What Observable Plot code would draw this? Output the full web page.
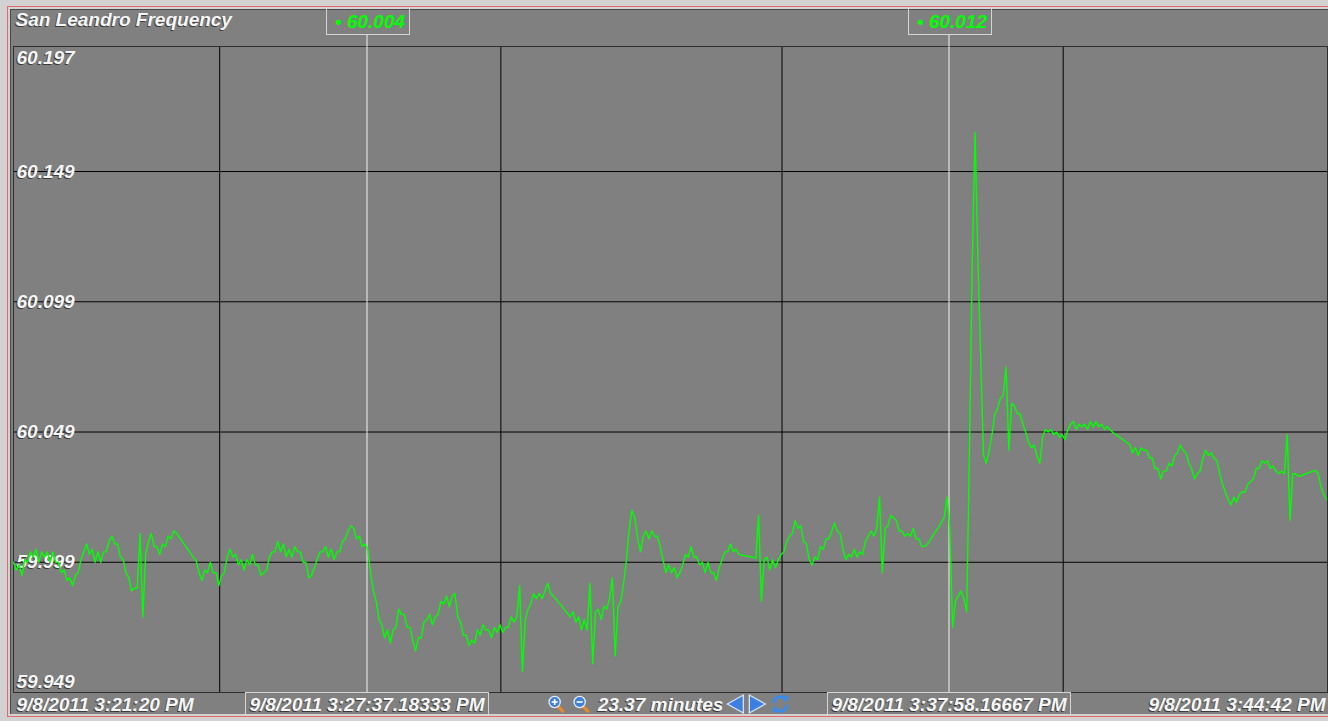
<!DOCTYPE html>
<html>
<head>
<meta charset="utf-8">
<script src="https://cdn.jsdelivr.net/npm/d3@7"></script>
<script src="https://cdn.jsdelivr.net/npm/@observablehq/plot@0.6"></script>
<style>
  html, body { margin: 0; padding: 0; background: #d2d2d2; width: 1328px; height: 721px; overflow: hidden; }
  #frame { position: absolute; left: 7px; top: 6px; width: 1340px; height: 711px; border: 1.5px solid #e26a6a; box-sizing: border-box; }
  #panel { position: absolute; left: 10px; top: 9px; width: 1340px; height: 705px; background: #808080; border-left: 1px solid #4a4a4a; border-top: 1px solid #4a4a4a; box-sizing: border-box; }
  #chart { position: absolute; left: 0; top: 0; }
</style>
</head>
<body>
<div id="frame"></div>
<div id="panel"></div>
<div id="chart"></div>
<script>
// San Leandro grid frequency trace, one reading every 3 seconds
const chartTitle = "San Leandro Frequency";
const startTime = new Date(Date.UTC(2011, 8, 8, 15, 21, 20));
const endTime = new Date(Date.UTC(2011, 8, 8, 15, 44, 42));
const sampleSeconds = 3;

const frequency = [
  59.999, 59.996, 59.998, 59.994, 60.000, 59.999, 60.003, 60.001, 60.004, 59.999,
  60.003, 60.001, 60.003, 59.999, 60.003, 59.999, 59.999, 59.995, 59.996, 59.992,
  59.993, 59.990, 59.994, 59.995, 60.000, 60.003, 60.006, 60.002, 60.004, 59.999,
  60.003, 59.999, 60.003, 60.003, 60.007, 60.009, 60.006, 60.006, 60.001, 60.000,
  59.995, 59.993, 59.988, 59.989, 59.989, 60.010, 59.978, 60.002, 60.007, 60.010,
  60.005, 60.005, 60.002, 60.006, 60.005, 60.009, 60.008, 60.011, 60.0101, 60.0086,
  60.0070, 60.0055, 60.0040, 60.0024, 60.0009, 59.9994, 59.995, 59.992, 59.996, 59.995,
  59.999, 59.995, 59.995, 59.990, 59.994, 59.995, 60.001, 60.004, 60.001, 60.002,
  59.998, 60.000, 59.996, 60.000, 59.998, 60.002, 59.998, 59.998, 59.994, 59.995,
  59.996, 60.001, 60.003, 60.003, 60.007, 60.003, 60.006, 60.001, 60.004, 60.001,
  60.005, 60.003, 60.003, 59.999, 59.999, 59.993, 59.994, 59.997, 60.000, 60.003,
  60.003, 60.005, 60.001, 60.004, 60.000, 60.003, 60.003, 60.007, 60.008, 60.011,
  60.013, 60.012, 60.008, 60.009, 60.005, 60.006, 60.004, 59.995, 59.988, 59.984,
  59.977, 59.975, 59.970, 59.973, 59.968, 59.973, 59.974, 59.981, 59.979, 59.979,
  59.974, 59.974, 59.969, 59.965, 59.970, 59.970, 59.976, 59.977, 59.979, 59.975,
  59.978, 59.979, 59.984, 59.983, 59.986, 59.982, 59.986, 59.987, 59.978, 59.976,
  59.971, 59.971, 59.967, 59.969, 59.968, 59.973, 59.971, 59.975, 59.973, 59.973,
  59.970, 59.974, 59.972, 59.975, 59.972, 59.974, 59.974, 59.978, 59.976, 59.978,
  59.990, 59.957, 59.977, 59.981, 59.983, 59.987, 59.985, 59.987, 59.985, 59.988,
  59.991, 59.987, 59.9860, 59.9848, 59.9834, 59.9822, 59.9807, 59.9795, 59.9780, 59.980,
  59.976, 59.978, 59.973, 59.977, 59.973, 59.991, 59.960, 59.980, 59.981, 59.977,
  59.982, 59.981, 59.985, 59.993, 59.963, 59.982, 59.984, 59.991, 60.000, 60.012,
  60.019, 60.016, 60.008, 60.003, 60.009, 60.011, 60.008, 60.011, 60.009, 60.009,
  60.005, 60.000, 59.995, 59.998, 59.995, 59.997, 59.993, 59.995, 59.998, 60.002,
  60.001, 60.005, 60.001, 60.001, 59.998, 59.999, 59.995, 59.999, 59.995, 59.995,
  59.992, 59.997, 60.000, 60.003, 60.003, 60.006, 60.003, 60.004, 60.002, 60.0017,
  60.0015, 60.0013, 60.0011, 60.0009, 60.0005, 60.017, 59.984, 60.000, 60.001, 59.996,
  60.000, 59.997, 60.000, 60.002, 60.003, 60.007, 60.009, 60.010, 60.015, 60.012,
  60.013, 60.007, 60.006, 60.000, 59.998, 60.001, 60.000, 60.005, 60.004, 60.008,
  60.008, 60.011, 60.014, 60.011, 60.010, 60.004, 60.000, 60.002, 60.001, 60.004,
  60.001, 60.003, 60.002, 60.007, 60.009, 60.011, 60.009, 60.012, 60.024, 59.995,
  60.012, 60.013, 60.017, 60.016, 60.015, 60.011, 60.011, 60.009, 60.010, 60.009,
  60.012, 60.008, 60.008, 60.005, 60.0051, 60.0059, 60.0074, 60.0093, 60.0109, 60.0124,
  60.0143, 60.0162, 60.024, 60.012, 59.974, 59.984, 59.986, 59.988, 59.985, 59.980,
  60.042, 60.115, 60.164, 60.115, 60.077, 60.040, 60.037, 60.042, 60.048, 60.056,
  60.058, 60.062, 60.063, 60.074, 60.042, 60.060, 60.059, 60.056, 60.056, 60.052,
  60.049, 60.045, 60.043, 60.044, 60.040, 60.037, 60.047, 60.050, 60.049, 60.050,
  60.048, 60.049, 60.047, 60.048, 60.046, 60.050, 60.052, 60.053, 60.050, 60.052,
  60.051, 60.052, 60.050, 60.053, 60.051, 60.053, 60.051, 60.052, 60.050, 60.051,
  60.050, 60.0488, 60.0480, 60.0473, 60.0465, 60.0457, 60.0449, 60.0442, 60.041, 60.043,
  60.040, 60.043, 60.042, 60.042, 60.039, 60.039, 60.035, 60.035, 60.031, 60.034,
  60.034, 60.037, 60.036, 60.040, 60.041, 60.044, 60.042, 60.041, 60.037, 60.035,
  60.031, 60.033, 60.034, 60.039, 60.042, 60.040, 60.041, 60.039, 60.038, 60.033,
  60.029, 60.026, 60.023, 60.021, 60.024, 60.022, 60.025, 60.026, 60.026, 60.029,
  60.030, 60.031, 60.035, 60.035, 60.038, 60.037, 60.038, 60.035, 60.036, 60.034,
  60.033, 60.034, 60.033, 60.048, 60.015, 60.033, 60.033, 60.032, 60.0323, 60.0327,
  60.0331, 60.0335, 60.0339, 60.0343, 60.033, 60.028, 60.025, 60.023
];

// Vertical divisions every five minutes, horizontal ones at the labelled levels
const gridTimes = [
  new Date(Date.UTC(2011, 8, 8, 15, 25, 0)),
  new Date(Date.UTC(2011, 8, 8, 15, 30, 0)),
  new Date(Date.UTC(2011, 8, 8, 15, 35, 0)),
  new Date(Date.UTC(2011, 8, 8, 15, 40, 0))
];
const yTicks = [59.949, 59.999, 60.049, 60.099, 60.149, 60.197];

// Two cursors and the start/end stamps of the window
const cursorTimes = [
  new Date(Date.UTC(2011, 8, 8, 15, 27, 37, 183)),
  new Date(Date.UTC(2011, 8, 8, 15, 37, 58, 167))
];
const cursorStamps = ["9/8/2011 3:27:37.18333 PM", "9/8/2011 3:37:58.16667 PM"];
const rangeStamps = ["9/8/2011 3:21:20 PM", "9/8/2011 3:44:42 PM"];

const rows = frequency.map((hz, i) => ({
  time: new Date(startTime.getTime() + i * sampleSeconds * 1000),
  hz
}));
const valueAt = (t) => frequency[Math.round((t - startTime) / 1000 / sampleSeconds)];
const readout = (hz) => "\u2022 " + d3.format(".3f")(hz);
const cursors = cursorTimes.map((time, i) => ({time, stamp: cursorStamps[i], hz: valueAt(time)}));
const midTime = new Date((startTime.getTime() + endTime.getTime()) / 2);
const spanText = `${d3.format(".2f")((endTime - startTime) / 60000)} minutes`;

const font = {
  fontFamily: "'Liberation Sans', Arial, sans-serif",
  fontSize: 19,
  fontWeight: "bold",
  fontStyle: "italic",
  lineAnchor: "middle"
};
const ink = "#f6f6f6";
const shade = "#3a3a3a";

// White label with a thin dark drop shadow
function shadowed(data, opts) {
  return [
    Plot.text(data, {...font, ...opts, fill: shade, dx: (opts.dx || 0) - 1, dy: (opts.dy || 0) + 1}),
    Plot.text(data, {...font, fill: ink, ...opts})
  ];
}

const plot = Plot.plot({
  width: 1328,
  height: 721,
  marginLeft: 13,
  marginRight: 1,
  marginTop: 46,
  marginBottom: 29,
  style: {background: "transparent", overflow: "visible"},
  x: {type: "utc", domain: [startTime, endTime], axis: null},
  y: {domain: [yTicks[0], yTicks[yTicks.length - 1]], axis: null},
  marks: [
    Plot.ruleX(gridTimes, {stroke: "#000", strokeWidth: 1}),
    Plot.ruleY(yTicks.slice(1, -1), {stroke: "#000", strokeWidth: 1}),
    Plot.frame({stroke: "#2e2e2e"}),
    ...shadowed(yTicks.slice(1, -1), {frameAnchor: "left", y: d => d, text: d => d.toFixed(3), textAnchor: "start", dx: 3}),
    ...shadowed(yTicks.slice(-1), {frameAnchor: "left", y: d => d, text: d => d.toFixed(3), textAnchor: "start", dx: 3, lineAnchor: "top", dy: 4}),
    ...shadowed(yTicks.slice(0, 1), {frameAnchor: "left", y: d => d, text: d => d.toFixed(3), textAnchor: "start", dx: 3, lineAnchor: "bottom", dy: -5}),
    Plot.ruleX(cursorTimes, {stroke: "#f2f2f2", strokeWidth: 1, insetTop: -12}),
    Plot.line(rows, {x: "time", y: "hz", stroke: "#00ff00", strokeWidth: 1.4}),
    ...shadowed([chartTitle], {frameAnchor: "top-left", text: d => d, textAnchor: "start", dx: 2, dy: -27}),
    Plot.text(cursors, {...font, x: "time", frameAnchor: "top", dy: -25, dx: 3, fill: "#00ff00", text: d => readout(d.hz)}),
    ...shadowed(cursors, {x: "time", frameAnchor: "bottom", dy: 12, text: "stamp"}),
    ...shadowed([startTime], {x: d => d, frameAnchor: "bottom", dy: 12, dx: 3, textAnchor: "start", text: () => rangeStamps[0]}),
    ...shadowed([endTime], {x: d => d, frameAnchor: "bottom", dy: 12, dx: -2, textAnchor: "end", text: () => rangeStamps[1]}),
    ...shadowed([midTime], {x: d => d, frameAnchor: "bottom", dy: 12, dx: -10, text: () => spanText})
  ]
});

document.getElementById("chart").append(plot);

const svg = d3.select(plot);
// The front-most text node with the given content
function frontText(content) {
  let node = null;
  svg.selectAll("text").each(function() { if (this.textContent === content) node = this; });
  return node;
}

// Outline boxes around the cursor read-outs and time stamps
function boxAround(content, padLeft, padRight, y0, y1) {
  const node = frontText(content);
  if (!node) return;
  const r = node.getBoundingClientRect();
  svg.append("rect")
    .attr("x", Math.round(r.left - padLeft) + 0.5)
    .attr("y", y0 + 0.5)
    .attr("width", Math.round(r.width + padLeft + padRight))
    .attr("height", y1 - y0)
    .attr("fill", "none")
    .attr("stroke", "#d4d4d4")
    .attr("stroke-width", 1);
}
cursors.forEach(c => {
  boxAround(readout(c.hz), 9, 4, 8, 34);
  boxAround(c.stamp, 4, 3, 692, 715);
});

// Navigation icons around the window length
const spanNode = frontText(spanText);
if (spanNode) {
  const span = spanNode.getBoundingClientRect();
  const cy = 704;
  const icons = svg.append("g");
  const magnifier = (cx, plus) => {
    icons.append("line").attr("x1", cx + 3).attr("y1", cy + 2).attr("x2", cx + 8).attr("y2", cy + 7)
      .attr("stroke", "#e8892c").attr("stroke-width", 3.2).attr("stroke-linecap", "round");
    icons.append("circle").attr("cx", cx).attr("cy", cy - 2).attr("r", 5.6)
      .attr("fill", "#3f7fd6").attr("stroke", "#e4eefb").attr("stroke-width", 1.3);
    icons.append("line").attr("x1", cx - 3).attr("x2", cx + 3).attr("y1", cy - 2).attr("y2", cy - 2)
      .attr("stroke", "#fff").attr("stroke-width", 1.6);
    if (plus) icons.append("line").attr("x1", cx).attr("x2", cx).attr("y1", cy - 5).attr("y2", cy + 1)
      .attr("stroke", "#fff").attr("stroke-width", 1.6);
  };
  magnifier(span.left - 42, true);
  magnifier(span.left - 17, false);
  const rx = span.right;
  icons.append("path").attr("d", `M${rx + 4},${cy} L${rx + 20},${cy - 9} L${rx + 20},${cy + 9} Z`)
    .attr("fill", "#3d7ee0").attr("stroke", "#d6e4f8").attr("stroke-width", 1.3);
  icons.append("path").attr("d", `M${rx + 26},${cy - 9} L${rx + 42},${cy} L${rx + 26},${cy + 9} Z`)
    .attr("fill", "#3d7ee0").attr("stroke", "#d6e4f8").attr("stroke-width", 1.3);
  const rcx = rx + 57;
  icons.append("path").attr("d", `M${rcx - 7},${cy - 1} A7,7 0 0 1 ${rcx + 5},${cy - 5}`)
    .attr("fill", "none").attr("stroke", "#3d8ae6").attr("stroke-width", 3);
  icons.append("path").attr("d", `M${rcx + 2},${cy - 9} L${rcx + 9},${cy - 7} L${rcx + 5},${cy - 1} Z`).attr("fill", "#3d8ae6");
  icons.append("path").attr("d", `M${rcx + 7},${cy + 1} A7,7 0 0 1 ${rcx - 5},${cy + 5}`)
    .attr("fill", "none").attr("stroke", "#3d8ae6").attr("stroke-width", 3);
  icons.append("path").attr("d", `M${rcx - 2},${cy + 9} L${rcx - 9},${cy + 7} L${rcx - 5},${cy + 1} Z`).attr("fill", "#3d8ae6");
}
</script>
</body>
</html>
